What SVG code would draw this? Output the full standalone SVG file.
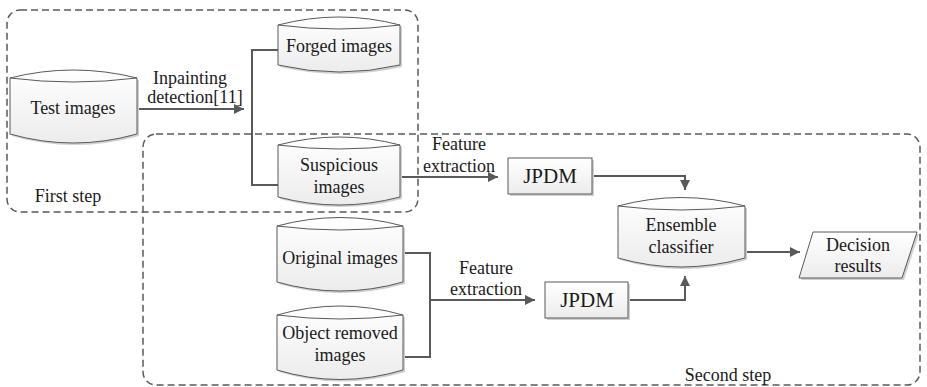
<svg xmlns="http://www.w3.org/2000/svg" width="927" height="387" viewBox="0 0 927 387">
<defs>
<linearGradient id="g" x1="0" y1="0" x2="0" y2="1">
<stop offset="0" stop-color="#ffffff"/>
<stop offset="1" stop-color="#ececec"/>
</linearGradient>
<marker id="ah" viewBox="0 0 10 10" refX="10" refY="5" markerWidth="10" markerHeight="10" markerUnits="userSpaceOnUse" orient="auto">
<path d="M0,0 L10,5 L0,10 Z" fill="#595959"/>
</marker>
</defs>
<style>
.t{font-family:"Liberation Serif","Times New Roman",serif;font-size:18px;fill:#1a1a1a;text-anchor:middle}
.j{font-size:21px}
.s{fill:url(#g);stroke:#595959;stroke-width:1}
.sh{fill:#d0d0d0;stroke:none}
.l{fill:none;stroke:#595959;stroke-width:1}
.c{fill:none;stroke:#595959;stroke-width:2}
.b{fill:none;stroke:#5a5a5a;stroke-width:1.5;stroke-dasharray:7 4}
</style>
<g id="first-step">
<rect class="b" x="7" y="10" width="411" height="202" rx="13"/>
<text class="t" x="68" y="202">First step</text>
</g>
<g id="second-step">
<rect class="b" x="143" y="134" width="777" height="251" rx="13"/>
<text class="t" x="728" y="381">Second step</text>
</g>
<g id="connectors">
<path class="c" d="M137,109 H244" marker-end="url(#ah)"/>
<path class="c" d="M278,50 H252 V185 H278"/>
<path class="c" d="M400,177 H498" marker-end="url(#ah)"/>
<path class="c" d="M592,176 H685 V190" marker-end="url(#ah)"/>
<path class="c" d="M628,300 H685 V276" marker-end="url(#ah)"/>
<path class="c" d="M745,252 H800" marker-end="url(#ah)"/>
<path class="c" d="M403,253 H430 V357 H403 M430,300 H535" marker-end="url(#ah)"/>
<text class="t" x="190" y="84">Inpainting</text>
<text class="t" x="195" y="103">detection[11]</text>
<text class="t" x="459" y="150">Feature</text>
<text class="t" x="459" y="172">extraction</text>
<text class="t" x="486" y="274">Feature</text>
<text class="t" x="486" y="295">extraction</text>
</g>
<g id="test-images">
<path class="sh" d="M12,80 Q74,64 139,80 L139,136 Q74,154 12,136 Z"/>
<path class="s" d="M10,78 Q73,62 137,78 L137,134 Q73,152 10,134 Z"/>
<path class="l" d="M10,78 Q73,86 137,78"/>
<text class="t" x="73" y="114">Test images</text>
</g>
<g id="forged-images">
<path class="sh" d="M280,27 Q340,11 402,27 L402,67 Q340,81 280,67 Z"/>
<path class="s" d="M278,25 Q339,9 400,25 L400,65 Q339,79 278,65 Z"/>
<path class="l" d="M278,25 Q339,33 400,25"/>
<text class="t" x="339" y="52">Forged images</text>
</g>
<g id="suspicious-images">
<path class="sh" d="M280,147 Q340,131 402,147 L402,199 Q340,215 280,199 Z"/>
<path class="s" d="M278,145 Q339,129 400,145 L400,197 Q339,213 278,197 Z"/>
<path class="l" d="M278,145 Q339,153 400,145"/>
<text class="t" x="339" y="171">Suspicious</text>
<text class="t" x="339" y="193">images</text>
</g>
<g id="original-images">
<path class="sh" d="M279,228 Q341,211 405,228 L405,284 Q341,302 279,284 Z"/>
<path class="s" d="M277,226 Q340,209 403,226 L403,282 Q340,300 277,282 Z"/>
<path class="l" d="M277,226 Q340,234 403,226"/>
<text class="t" x="340" y="264">Original images</text>
</g>
<g id="object-removed-images">
<path class="sh" d="M279,317 Q341,299 405,317 L405,372 Q341,391 279,372 Z"/>
<path class="s" d="M277,315 Q340,297 403,315 L403,370 Q340,389 277,370 Z"/>
<path class="l" d="M277,315 Q340,323 403,315"/>
<text class="t" x="340" y="339">Object removed</text>
<text class="t" x="340" y="361">images</text>
</g>
<g id="jpdm-1">
<rect class="sh" x="510" y="160" width="84" height="36"/>
<rect class="s" x="508" y="158" width="84" height="36"/>
<text class="t j" x="550" y="183">JPDM</text>
</g>
<g id="jpdm-2">
<rect class="sh" x="547" y="284" width="83" height="36"/>
<rect class="s" x="545" y="282" width="83" height="36"/>
<text class="t j" x="587" y="307">JPDM</text>
</g>
<g id="ensemble-classifier">
<path class="sh" d="M620,208 Q682,191 747,208 L747,260 Q682,278 620,260 Z"/>
<path class="s" d="M618,206 Q681,189 745,206 L745,258 Q681,276 618,258 Z"/>
<path class="l" d="M618,206 Q681,214 745,206"/>
<text class="t" x="681" y="231">Ensemble</text>
<text class="t" x="681" y="253">classifier</text>
</g>
<g id="decision-results">
<polygon class="sh" points="815,234 919,234 904,280 801,280"/>
<polygon class="s" points="813,232 917,232 902,278 799,278"/>
<text class="t" x="858" y="251">Decision</text>
<text class="t" x="858" y="272">results</text>
</g>
</svg>
